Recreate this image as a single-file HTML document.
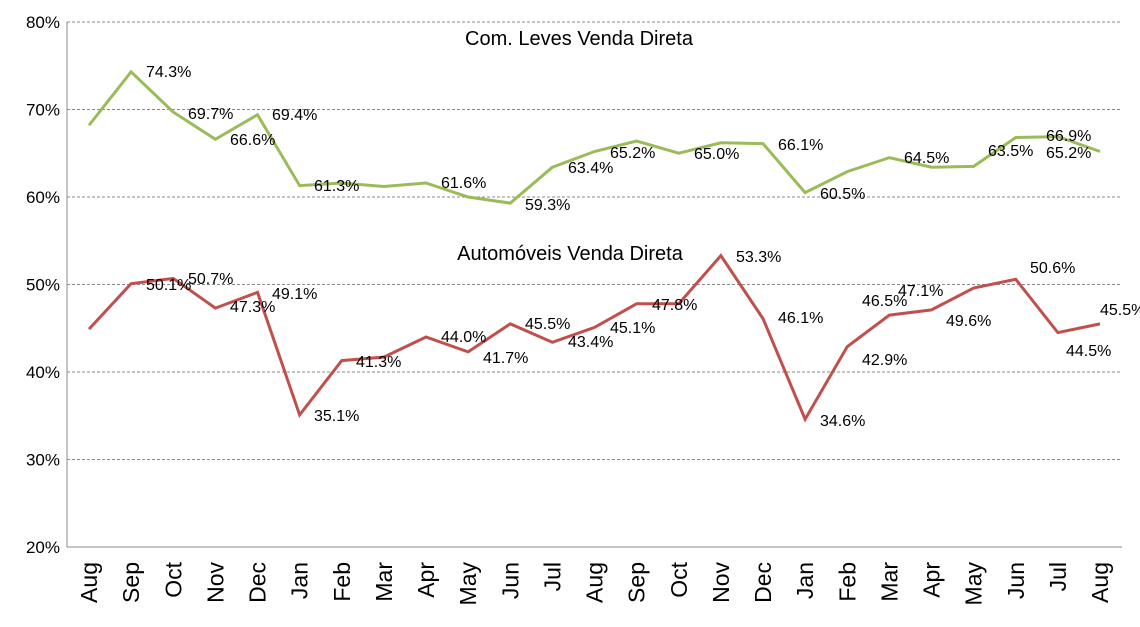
<!DOCTYPE html>
<html><head><meta charset="utf-8"><style>
body{margin:0;background:#fff}
svg{display:block;font-family:"Liberation Sans",sans-serif}
</style></head><body>
<svg width="1140" height="627" viewBox="0 0 1140 627" xmlns="http://www.w3.org/2000/svg">
<g stroke="#888" stroke-width="1" stroke-dasharray="3,2">
<line x1="67" y1="22" x2="1122" y2="22"/>
<line x1="67" y1="109.5" x2="1122" y2="109.5"/>
<line x1="67" y1="197" x2="1122" y2="197"/>
<line x1="67" y1="284.5" x2="1122" y2="284.5"/>
<line x1="67" y1="372" x2="1122" y2="372"/>
<line x1="67" y1="459.5" x2="1122" y2="459.5"/>
</g>
<line x1="67" y1="22" x2="67" y2="547" stroke="#888"/>
<line x1="67" y1="547" x2="1122" y2="547" stroke="#888"/>
<g font-size="17" text-anchor="end" fill="#000">
<text x="60" y="28">80%</text><text x="60" y="115.5">70%</text><text x="60" y="203">60%</text>
<text x="60" y="290.5">50%</text><text x="60" y="378">40%</text><text x="60" y="465.5">30%</text><text x="60" y="553">20%</text>
</g>
<g font-size="23" text-anchor="end" id="xl"></g>
<polyline fill="none" stroke="#9bbb59" stroke-width="3" id="g"/>
<polyline fill="none" stroke="#c0504d" stroke-width="3" id="r"/>
<g font-size="20" text-anchor="middle">
<text x="579" y="45">Com. Leves Venda Direta</text>
<text x="570" y="260">Automóveis Venda Direta</text>
</g>
<g font-size="16" id="lb"></g>
</svg>
<script>
var ns="http://www.w3.org/2000/svg";
var m=["Aug","Sep","Oct","Nov","Dec","Jan","Feb","Mar","Apr","May","Jun","Jul","Aug","Sep","Oct","Nov","Dec","Jan","Feb","Mar","Apr","May","Jun","Jul","Aug"];
var G=[68.2,74.3,69.7,66.6,69.4,61.3,61.6,61.2,61.6,60.0,59.3,63.4,65.2,66.4,65.0,66.2,66.1,60.5,62.9,64.5,63.4,63.5,66.8,66.9,65.2];
var R=[44.9,50.1,50.7,47.3,49.1,35.1,41.3,41.7,44.0,42.3,45.5,43.4,45.1,47.8,47.8,53.3,46.1,34.6,42.9,46.5,47.1,49.6,50.6,44.5,45.5];
function X(i){return 89+i*42.125}function Y(v){return 22+(80-v)*8.75}
document.getElementById("g").setAttribute("points",G.map((v,i)=>X(i)+","+Y(v)).join(" "));
document.getElementById("r").setAttribute("points",R.map((v,i)=>X(i)+","+Y(v)).join(" "));
var xl=document.getElementById("xl");
m.forEach((s,i)=>{var t=document.createElementNS(ns,"text");var x=X(i)+8,y=562;t.setAttribute("x",x);t.setAttribute("y",y);t.setAttribute("transform","rotate(-90 "+x+" "+y+")");t.textContent=s;xl.appendChild(t);});
var L=[["74.3%",146,72],["69.7%",188,114],["66.6%",230,140],["69.4%",272,115],["61.3%",314,186],["61.6%",441,183],["59.3%",525,205],["63.4%",568,168],["65.2%",610,153],["65.0%",694,154],["66.1%",778,145],["60.5%",820,194],["64.5%",904,158],["63.5%",988,151],["66.9%",1046,136],["65.2%",1046,153],
["50.1%",146,285],["50.7%",188,279],["47.3%",230,307],["49.1%",272,294],["35.1%",314,416],["41.3%",356,362],["44.0%",441,337],["41.7%",483,358],["45.5%",525,324],["43.4%",568,342],["45.1%",610,328],["47.8%",652,305],["53.3%",736,257],["46.1%",778,318],["34.6%",820,421],["42.9%",862,360],["46.5%",862,301],["47.1%",898,291],["49.6%",946,321],["50.6%",1030,268],["44.5%",1066,351],["45.5%",1100,310]];
var lb=document.getElementById("lb");
L.forEach(a=>{var t=document.createElementNS(ns,"text");t.setAttribute("x",a[1]);t.setAttribute("y",a[2]+5);t.textContent=a[0];lb.appendChild(t);});
</script>
</body></html>
